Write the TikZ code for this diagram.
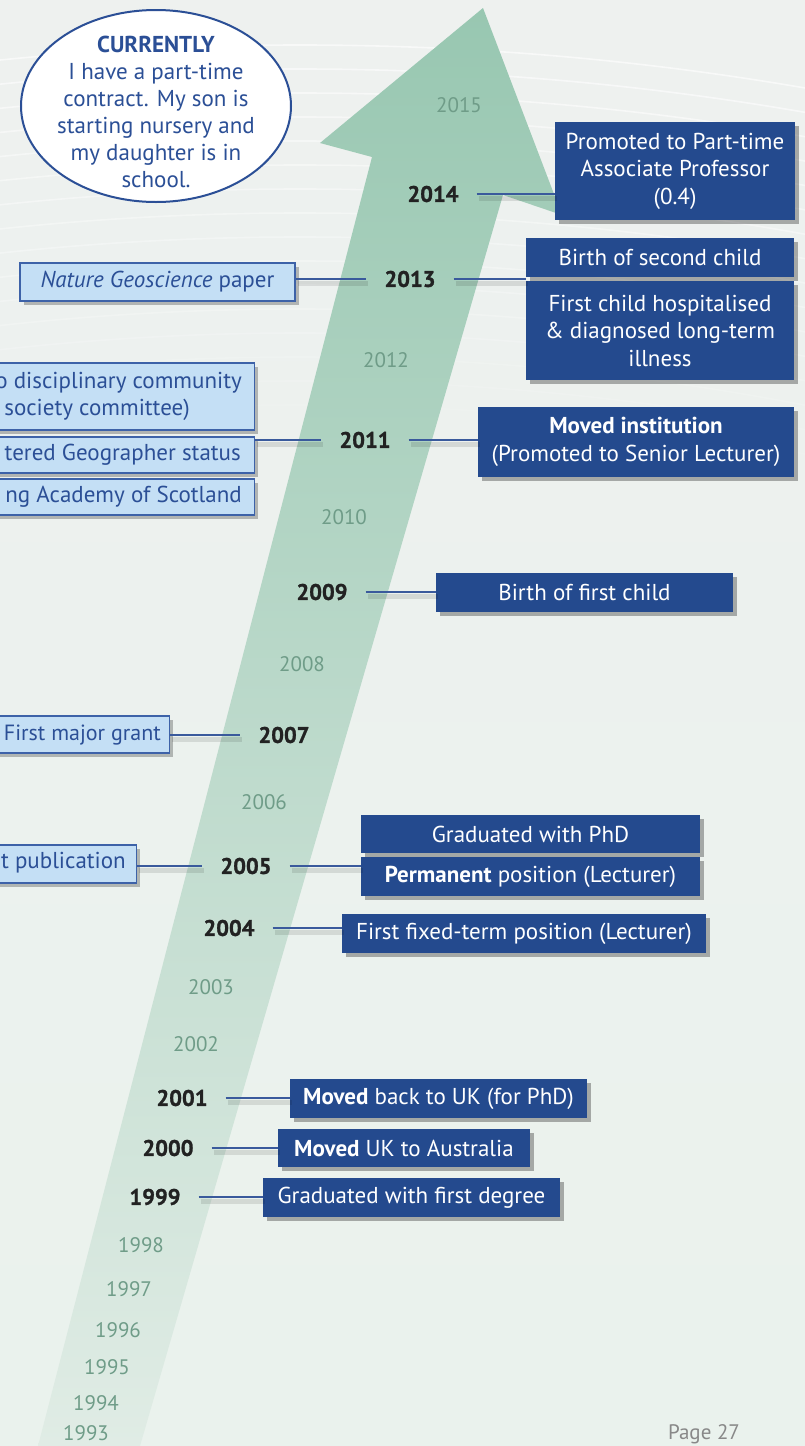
\documentclass[tikz,border=0pt]{standalone}
\usepackage{fontspec}
\setmainfont{PT Sans}
\newfontfamily\yearfont[FakeBold=1.2]{PT Sans}
\usetikzlibrary{shadows,shapes.geometric}

\definecolor{boxblue}{HTML}{244A8E}
\definecolor{inkblue}{HTML}{2B4F96}
\definecolor{paleblue}{HTML}{C4DFF5}
\definecolor{edgeblue}{HTML}{3D62A8}
\definecolor{lineblue}{HTML}{3A5A9C}
\definecolor{arrowtop}{HTML}{98C7B1}
\definecolor{arrowmid}{HTML}{C4DDD1}
\definecolor{arrowbot}{HTML}{E0ECE5}
\definecolor{bgtop}{HTML}{EEF1EF}
\definecolor{bgbot}{HTML}{EAF2ED}
\definecolor{yeardark}{HTML}{222222}
\definecolor{yearlight}{HTML}{6F9C88}
\definecolor{pagegray}{HTML}{888888}

\tikzset{
  darkbox/.style={fill=boxblue, text=white, align=center, inner sep=0pt,
    font=\fontsize{23}{27.5}\selectfont,
    drop shadow={shadow xshift=4pt, shadow yshift=-4pt, opacity=0.3, fill=black}},
  lightbox/.style={fill=paleblue, draw=edgeblue, line width=1.3pt, inner sep=0pt,
    drop shadow={shadow xshift=4pt, shadow yshift=-4pt, opacity=0.25, fill=black}},
  lighttext/.style={text=inkblue, inner sep=0pt, font=\fontsize{23}{27}\selectfont},
  boldyear/.style={text=yeardark, inner sep=0pt, font=\yearfont\bfseries\fontsize{22.5}{24}\selectfont},
  lightyear/.style={text=yearlight, inner sep=0pt, font=\fontsize{21}{24}\selectfont},
  conn/.style={draw=lineblue, line width=1.3pt,
    preaction={draw=black, opacity=0.1, line width=5pt,
      transform canvas={shift={(2pt,-4pt)}}}},
  rconn/.style={conn, shorten <=18pt},
  lconn/.style={conn, shorten >=18pt},
}

\begin{document}
\begin{tikzpicture}[x=1pt,y=-1pt]
\useasboundingbox (0,0) rectangle (805,1446);
\begin{scope}
\clip (0,0) rectangle (805,1446);

% background with soft white stripes near the top
\shade[top color=bgtop, bottom color=bgbot] (0,0) rectangle (805,1446);
\foreach \i in {0,...,16}{
  \pgfmathsetmacro\op{0.6-0.034*\i}
  \draw[white, line width=1.6pt, opacity=\op] (300,3000) circle ({2955-24*\i});
}

% the rising arrow
\shade[top color=arrowtop, middle color=arrowmid, bottom color=arrowbot]
  (483,8) -- (562,215) -- (503,195) -- (140,1446) -- (38,1446)
  -- (372,157) -- (320,143) -- cycle;

% current situation
\node[ellipse, draw=inkblue, fill=white, line width=2pt,
      minimum width=270pt, minimum height=192pt] (now) at (156,106) {};
\node[text=inkblue, align=center, inner sep=0pt, font=\fontsize{23}{27}\selectfont]
  (nowtext) at (156,112)
  {\textbf{CURRENTLY}\\I have a part-time\\contract. My son is\\starting nursery and\\my daughter is in\\school.};

% years
\node[lightyear] (y2015) at (459,105) {2015};
\node[boldyear]  (y2014) at (433,194) {2014};
\node[boldyear]  (y2013) at (410,279) {2013};
\node[lightyear] (y2012) at (386,360) {2012};
\node[boldyear]  (y2011) at (365,440) {2011};
\node[lightyear] (y2010) at (344,517) {2010};
\node[boldyear]  (y2009) at (322,592) {2009};
\node[lightyear] (y2008) at (302,664) {2008};
\node[boldyear]  (y2007) at (284,735) {2007};
\node[lightyear] (y2006) at (264,802) {2006};
\node[boldyear]  (y2005) at (246,866) {2005};
\node[boldyear]  (y2004) at (229,928) {2004};
\node[lightyear] (y2003) at (211,987) {2003};
\node[lightyear] (y2002) at (196,1044) {2002};
\node[boldyear]  (y2001) at (182,1098) {2001};
\node[boldyear]  (y2000) at (168,1148) {2000};
\node[boldyear]  (y1999) at (155,1197) {1999};
\node[lightyear] (y1998) at (141,1245) {1998};
\node[lightyear] (y1997) at (129,1289) {1997};
\node[lightyear] (y1996) at (118,1330) {1996};
\node[lightyear] (y1995) at (107,1367) {1995};
\node[lightyear] (y1994) at (96,1403) {1994};
\node[lightyear] (y1993) at (86,1433) {1993};

% career and family events (right)
\node[darkbox, minimum width=240pt, minimum height=98pt] (b2014) at (675,171)
  {Promoted to Part-time\\Associate Professor\\(0.4)};
\node[darkbox, minimum width=268pt, minimum height=39pt] (b2013a) at (660,257.5)
  {Birth of second child};
\node[darkbox, minimum width=268pt, minimum height=99pt] (b2013b) at (660,330.5)
  {First child hospitalised\\\& diagnosed long-term\\illness};
\node[darkbox, minimum width=316pt, minimum height=70pt] (b2011) at (636,442)
  {\textbf{Moved institution}\\(Promoted to Senior Lecturer)};
\node[darkbox, minimum width=297pt, minimum height=39pt] (b2009) at (584.5,592.5)
  {Birth of first child};
\node[darkbox, minimum width=339pt, minimum height=38pt] (b2005a) at (530.5,834)
  {Graduated with PhD};
\node[darkbox, minimum width=339pt, minimum height=39pt] (b2005b) at (530.5,876.5)
  {\textbf{Permanent} position (Lecturer)};
\node[darkbox, minimum width=364pt, minimum height=39pt] (b2004) at (524,933.5)
  {First fixed-term position (Lecturer)};
\node[darkbox, minimum width=297pt, minimum height=39pt] (b2001) at (438.5,1098.5)
  {\textbf{Moved} back to UK (for PhD)};
\node[darkbox, minimum width=252pt, minimum height=38pt] (b2000) at (404,1148)
  {\textbf{Moved} UK to Australia};
\node[darkbox, minimum width=297pt, minimum height=39pt] (b1999) at (411.5,1197.5)
  {Graduated with first degree};

% academic milestones (left)
\node[lightbox, minimum width=275pt, minimum height=38pt] (lnature) at (157.5,282) {};
\node[lighttext] (tnature) at (157.5,282) {\textit{Nature Geoscience} paper};
\node[lightbox, minimum width=300pt, minimum height=67pt, anchor=east] (l2011a) at (255,396.5) {};
\node[lighttext, anchor=east] (t2011a1) at (242,383) {o disciplinary community};
\node[lighttext, anchor=east] (t2011a2) at (190,410) {society committee)};
\node[lightbox, minimum width=300pt, minimum height=36pt, anchor=east] (l2011b) at (255,455) {};
\node[lighttext, anchor=east] (t2011b) at (241,455) {tered Geographer status};
\node[lightbox, minimum width=300pt, minimum height=36pt, anchor=east] (l2011c) at (255,497) {};
\node[lighttext, anchor=east] (t2011c) at (242,497) {ng Academy of Scotland};
\node[lightbox, minimum width=220pt, minimum height=37pt, anchor=east] (l2007) at (170,734.5) {};
\node[lighttext, anchor=east, font=\fontsize{22}{27}\selectfont] (t2007) at (161,735) {First major grant};
\node[lightbox, minimum width=200pt, minimum height=38pt, anchor=east] (l2005) at (137,864) {};
\node[lighttext, anchor=east] (t2005) at (126,863) {t publication};

% connectors
\draw[rconn] (y2014.east) -- (y2014.east -| b2014.west);
\draw[rconn] (y2013.east) -- (y2013.east -| b2013a.west);
\draw[lconn] (lnature.east |- y2013.west) -- (y2013.west);
\draw[rconn] (y2011.east) -- (y2011.east -| b2011.west);
\draw[lconn] (l2011b.east |- y2011.west) -- (y2011.west);
\draw[rconn] (y2009.east) -- (y2009.east -| b2009.west);
\draw[lconn] (l2007.east |- y2007.west) -- (y2007.west);
\draw[rconn] (y2005.east) -- (y2005.east -| b2005b.west);
\draw[lconn] (l2005.east |- y2005.west) -- (y2005.west);
\draw[rconn] (y2004.east) -- (y2004.east -| b2004.west);
\draw[rconn] (y2001.east) -- (y2001.east -| b2001.west);
\draw[rconn] (y2000.east) -- (y2000.east -| b2000.west);
\draw[rconn] (y1999.east) -- (y1999.east -| b1999.west);

% folio
\node[text=pagegray, inner sep=0pt, font=\fontsize{21}{24}\selectfont] (folio) at (704,1434) {Page 27};
\end{scope}
\end{tikzpicture}
\end{document}
